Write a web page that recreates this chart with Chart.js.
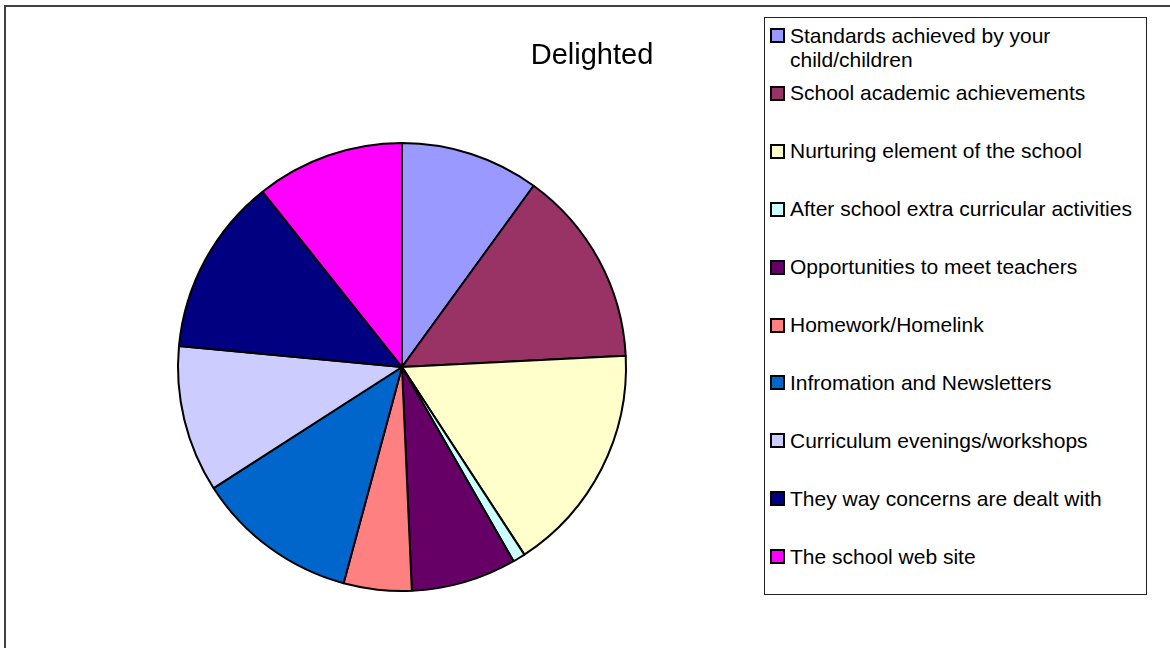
<!DOCTYPE html>
<html>
<head>
<meta charset="utf-8">
<script src="https://cdn.jsdelivr.net/npm/chart.js@4.4.1/dist/chart.umd.min.js"></script>
<style>
  html, body { margin: 0; padding: 0; background: #fff; }
  body { width: 1170px; height: 648px; position: relative; overflow: hidden; font-family: "Liberation Sans", Arial, sans-serif; }
  #frame { position: absolute; left: 4px; top: 5px; width: 1300px; height: 800px; border-left: 2px solid #404040; border-top: 2px solid #404040; box-sizing: border-box; }
  #c { position: absolute; left: 0; top: 0; }
  #title { position: absolute; left: 492px; width: 200px; text-align: center; top: 40px; font-size: 29px; line-height: 29px; color: #000; }
  #legend { position: absolute; left: 764px; top: 17px; width: 383px; height: 578px; border: 1px solid #222; box-sizing: border-box; background: #fff; }
  .item { position: absolute; left: 0; width: 383px; }
  .mk { position: absolute; left: 5px; width: 11px; height: 11px; border: 2px solid #000; }
  .tx { position: absolute; left: 25px; width: 356px; font-size: 21px; line-height: 24px; color: #000; white-space: normal; }
</style>
</head>
<body>
<div id="frame"></div>
<canvas id="c" width="1170" height="648"></canvas>
<div id="title">Delighted</div>
<div id="legend"></div>
<script>
const chartTitle = "Delighted";
const categories = [
  "Standards achieved by your child/children",
  "School academic achievements",
  "Nurturing element of the school",
  "After school extra curricular activities",
  "Opportunities to meet teachers",
  "Homework/Homelink",
  "Infromation and Newsletters",
  "Curriculum evenings/workshops",
  "They way concerns are dealt with",
  "The school web site"
];
const values = [10.0, 14.2, 16.6, 0.9, 7.6, 4.9, 11.7, 10.6, 12.8, 10.7];
const colors = ["#9999FF", "#993366", "#FFFFCC", "#CCFFFF", "#660066", "#FF8080", "#0066CC", "#CCCCFF", "#000080", "#FF00FF"];

document.getElementById('title').textContent = chartTitle;

const legend = document.getElementById('legend');
categories.forEach((label, i) => {
  const centerY = 34.5 + i * 57.9 - 17; // relative to legend box top
  const item = document.createElement('div');
  item.className = 'item';
  item.style.top = (centerY - 12) + 'px';
  const mk = document.createElement('div');
  mk.className = 'mk';
  mk.style.background = colors[i];
  mk.style.top = (12 - 7.5) + 'px';
  const tx = document.createElement('div');
  tx.className = 'tx';
  tx.textContent = label;
  item.appendChild(mk);
  item.appendChild(tx);
  legend.appendChild(item);
});

new Chart(document.getElementById('c'), {
  type: 'pie',
  data: {
    labels: categories,
    datasets: [{
      data: values,
      backgroundColor: colors,
      borderColor: '#000',
      borderWidth: 2,
      hoverOffset: 0,
      offset: 0
    }]
  },
  options: {
    responsive: false,
    animation: false,
    devicePixelRatio: 1,
    events: [],
    layout: { padding: { left: 177, right: 543, top: 142, bottom: 56 } },
    plugins: { legend: { display: false }, tooltip: { enabled: false }, title: { display: false } }
  }
});
</script>
</body>
</html>
